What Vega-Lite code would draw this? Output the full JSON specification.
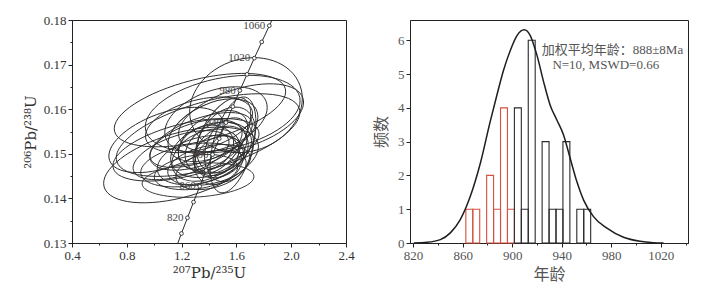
{
  "$schema": "https://vega.github.io/schema/vega-lite/v6.json",
  "background": "white",
  "padding": {"left": 22, "top": 13, "right": 0, "bottom": 0},
  "spacing": 18,
  "config": {
    "font": "Liberation Serif, Noto Sans CJK SC",
    "view": {"stroke": "#222222", "strokeWidth": 1},
    "axis": {
      "grid": false,
      "domainColor": "#222222",
      "tickColor": "#222222",
      "labelColor": "#333333",
      "labelFontSize": 13,
      "labelFont": "Liberation Serif",
      "labelOverlap": false,
      "titleColor": "#333333",
      "titleFontWeight": "normal",
      "labelPadding": 2
    }
  },
  "datasets": {
    "ell": [
      {"x": 1.670, "y": 0.1609, "len": 0.84, "r": "e80", "tilt": 20},
      {"x": 1.500, "y": 0.1590, "len": 1.15, "r": "e45", "tilt": 12},
      {"x": 1.334, "y": 0.1598, "len": 1.285, "r": "e35", "tilt": 14},
      {"x": 1.393, "y": 0.1542, "len": 1.387, "r": "e35", "tilt": 16},
      {"x": 1.196, "y": 0.1475, "len": 1.168, "r": "e40", "tilt": 16},
      {"x": 1.320, "y": 0.1441, "len": 0.818, "r": "e30", "tilt": 4},
      {"x": 1.232, "y": 0.1509, "len": 1.095, "r": "e35", "tilt": 14},
      {"x": 1.575, "y": 0.1520, "len": 0.72, "r": "e40", "tilt": 75},
      {"x": 1.451, "y": 0.1576, "len": 0.78, "r": "e55", "tilt": 20},
      {"x": 1.086, "y": 0.1531, "len": 0.876, "r": "e45", "tilt": 20},
      {"x": 1.634, "y": 0.1580, "len": 0.949, "r": "e45", "tilt": 18},
      {"x": 1.415, "y": 0.1509, "len": 0.613, "r": "e60", "tilt": 20},
      {"x": 1.378, "y": 0.1497, "len": 0.526, "r": "e65", "tilt": 25},
      {"x": 1.451, "y": 0.1513, "len": 0.481, "r": "e70", "tilt": 30},
      {"x": 1.342, "y": 0.1486, "len": 0.656, "r": "e50", "tilt": 15},
      {"x": 1.488, "y": 0.1504, "len": 0.438, "r": "e75", "tilt": 40},
      {"x": 1.305, "y": 0.1520, "len": 0.700, "r": "e45", "tilt": 18},
      {"x": 1.429, "y": 0.1531, "len": 0.569, "r": "e60", "tilt": 35},
      {"x": 1.473, "y": 0.1486, "len": 0.394, "r": "e80", "tilt": 45},
      {"x": 1.269, "y": 0.1475, "len": 0.744, "r": "e40", "tilt": 10},
      {"x": 1.400, "y": 0.1475, "len": 0.613, "r": "e45", "tilt": 12},
      {"x": 1.524, "y": 0.1531, "len": 0.526, "r": "e70", "tilt": 55},
      {"x": 1.342, "y": 0.1531, "len": 0.788, "r": "e40", "tilt": 20},
      {"x": 1.451, "y": 0.1497, "len": 0.350, "r": "e80", "tilt": 30},
      {"x": 1.378, "y": 0.1513, "len": 0.420, "r": "e75", "tilt": 25},
      {"x": 1.502, "y": 0.1542, "len": 0.613, "r": "e50", "tilt": 60},
      {"x": 1.305, "y": 0.1459, "len": 0.613, "r": "e40", "tilt": 8},
      {"x": 1.196, "y": 0.1497, "len": 0.730, "r": "e40", "tilt": 18},
      {"x": 1.429, "y": 0.1553, "len": 0.700, "r": "e55", "tilt": 25},
      {"x": 1.546, "y": 0.1509, "len": 0.481, "r": "e70", "tilt": 70},
      {"x": 1.415, "y": 0.1464, "len": 0.526, "r": "e50", "tilt": 15},
      {"x": 1.327, "y": 0.1565, "len": 0.803, "r": "e45", "tilt": 15}
    ],
    "conc": [
      {"t": 780, "x": 1.1558, "y": 0.12862},
      {"t": 800, "x": 1.1987, "y": 0.13213},
      {"t": 820, "x": 1.2425, "y": 0.13565},
      {"t": 840, "x": 1.2871, "y": 0.13918},
      {"t": 860, "x": 1.3326, "y": 0.14272},
      {"t": 880, "x": 1.3790, "y": 0.14627},
      {"t": 900, "x": 1.4263, "y": 0.14983},
      {"t": 920, "x": 1.4746, "y": 0.15340},
      {"t": 940, "x": 1.5238, "y": 0.15699},
      {"t": 960, "x": 1.5740, "y": 0.16058},
      {"t": 980, "x": 1.6252, "y": 0.16419},
      {"t": 1000, "x": 1.6774, "y": 0.16781},
      {"t": 1020, "x": 1.7307, "y": 0.17144},
      {"t": 1040, "x": 1.7850, "y": 0.17508},
      {"t": 1060, "x": 1.8404, "y": 0.17873},
      {"t": 1080, "x": 1.8969, "y": 0.18239}
    ],
    "hist": [
      {"a": 862.6, "b": 868.2, "n": 1, "g": "red"},
      {"a": 868.2, "b": 873.8, "n": 1, "g": "red"},
      {"a": 879.4, "b": 885.0, "n": 2, "g": "red"},
      {"a": 885.0, "b": 890.6, "n": 1, "g": "red"},
      {"a": 890.6, "b": 896.2, "n": 4, "g": "red"},
      {"a": 896.2, "b": 901.8, "n": 1, "g": "red"},
      {"a": 901.8, "b": 907.4, "n": 4, "g": "black"},
      {"a": 907.4, "b": 913.0, "n": 1, "g": "black"},
      {"a": 913.0, "b": 918.6, "n": 6, "g": "black"},
      {"a": 924.2, "b": 929.8, "n": 3, "g": "black"},
      {"a": 929.8, "b": 935.4, "n": 1, "g": "black"},
      {"a": 935.4, "b": 941.0, "n": 1, "g": "black"},
      {"a": 941.0, "b": 946.6, "n": 3, "g": "black"},
      {"a": 952.2, "b": 957.8, "n": 1, "g": "black"},
      {"a": 957.8, "b": 963.4, "n": 1, "g": "black"}
    ],
    "curve": [
      {"a": 820.6, "n": 0},
      {"a": 831.3, "n": 0.02},
      {"a": 842.0, "n": 0.1},
      {"a": 850.1, "n": 0.3},
      {"a": 858.1, "n": 0.69},
      {"a": 866.2, "n": 1.38},
      {"a": 874.3, "n": 2.36},
      {"a": 882.3, "n": 3.6},
      {"a": 887.7, "n": 4.38},
      {"a": 893.1, "n": 5.12},
      {"a": 898.5, "n": 5.7},
      {"a": 903.9, "n": 6.14},
      {"a": 909.8, "n": 6.31},
      {"a": 914.6, "n": 6.14},
      {"a": 920.0, "n": 5.56},
      {"a": 925.4, "n": 4.77},
      {"a": 930.7, "n": 4.08},
      {"a": 936.1, "n": 3.64},
      {"a": 941.5, "n": 3.2},
      {"a": 946.9, "n": 2.5},
      {"a": 952.3, "n": 1.81},
      {"a": 957.7, "n": 1.27},
      {"a": 965.7, "n": 0.78},
      {"a": 976.5, "n": 0.44},
      {"a": 989.9, "n": 0.17},
      {"a": 1003.3, "n": 0.05},
      {"a": 1014.1, "n": 0.01},
      {"a": 1022.2, "n": 0}
    ],
    "notes": [
      {"a": 981, "n": 5.70, "t": "加权平均年龄：888±8Ma"},
      {"a": 975.6, "n": 5.26, "t": "N=10, MSWD=0.66"}
    ]
  },
  "hconcat": [
    {
      "width": 274,
      "height": 223,
      "encoding": {
        "x": {
          "field": "x", "type": "quantitative",
          "scale": {"domain": [0.4, 2.4], "nice": false, "zero": false},
          "axis": {
            "title": "²⁰⁷Pb/²³⁵U",
            "titleFont": "DejaVu Serif",
            "titleFontSize": 15,
            "titlePadding": 3,
            "labelFlush": false,
            "labelOverlap": false,
            "values": [0.4, 0.6, 0.8, 1.0, 1.2, 1.4, 1.6, 1.8, 2.0, 2.2, 2.4],
            "labelExpr": "indexof(['0.4','0.8','1.2','1.6','2.0','2.4'], format(datum.value,'.1f')) >= 0 ? format(datum.value,'.1f') : ''",
            "tickSize": {"condition": {"test": "indexof(['0.4','0.8','1.2','1.6','2.0','2.4'], format(datum.value,'.1f')) >= 0", "value": 4}, "value": 2}
          }
        },
        "y": {
          "field": "y", "type": "quantitative",
          "scale": {"domain": [0.13, 0.18], "nice": false, "zero": false},
          "axis": {
            "title": "²⁰⁶Pb/²³⁸U",
            "titleFont": "DejaVu Serif",
            "titleFontSize": 15,
            "titlePadding": 5,
            "labelOverlap": false,
            "values": [0.13, 0.135, 0.14, 0.145, 0.15, 0.155, 0.16, 0.165, 0.17, 0.175, 0.18],
            "labelExpr": "substring(format(datum.value,'.3f'),4,5) == '0' ? format(datum.value,'.2f') : ''",
            "tickSize": {"condition": {"test": "substring(format(datum.value,'.3f'),4,5) == '0'", "value": 4}, "value": 2}
          }
        }
      },
      "layer": [
        {
          "data": {"name": "ell"},
          "mark": {"type": "point", "filled": false, "color": "#2b2b2b", "strokeWidth": 0.9, "opacity": 1, "clip": true},
          "encoding": {
            "size": {"field": "len", "type": "quantitative", "legend": null,
              "scale": {"type": "pow", "exponent": 2, "domain": [0, 1], "range": [0, 18769]}},
            "shape": {"field": "r", "type": "nominal", "legend": null,
              "scale": {
                "domain": ["e30", "e35", "e40", "e45", "e50", "e55", "e60", "e65", "e70", "e75", "e80"],
                "range": [
                  "M-1 0 A1 0.30 0 1 1 1 0 A1 0.30 0 1 1 -1 0 Z",
                  "M-1 0 A1 0.35 0 1 1 1 0 A1 0.35 0 1 1 -1 0 Z",
                  "M-1 0 A1 0.40 0 1 1 1 0 A1 0.40 0 1 1 -1 0 Z",
                  "M-1 0 A1 0.45 0 1 1 1 0 A1 0.45 0 1 1 -1 0 Z",
                  "M-1 0 A1 0.50 0 1 1 1 0 A1 0.50 0 1 1 -1 0 Z",
                  "M-1 0 A1 0.55 0 1 1 1 0 A1 0.55 0 1 1 -1 0 Z",
                  "M-1 0 A1 0.60 0 1 1 1 0 A1 0.60 0 1 1 -1 0 Z",
                  "M-1 0 A1 0.65 0 1 1 1 0 A1 0.65 0 1 1 -1 0 Z",
                  "M-1 0 A1 0.70 0 1 1 1 0 A1 0.70 0 1 1 -1 0 Z",
                  "M-1 0 A1 0.75 0 1 1 1 0 A1 0.75 0 1 1 -1 0 Z",
                  "M-1 0 A1 0.80 0 1 1 1 0 A1 0.80 0 1 1 -1 0 Z"
                ]
              }},
            "angle": {"field": "tilt", "type": "quantitative", "legend": null,
              "scale": {"domain": [0, 90], "range": [360, 270]}}
          }
        },
        {
          "data": {"name": "conc"},
          "mark": {"type": "line", "color": "#2b2b2b", "strokeWidth": 1, "clip": true},
          "encoding": {
            "order": {"field": "t", "type": "quantitative"}
          }
        },
        {
          "data": {"name": "conc"},
          "mark": {"type": "point", "filled": true, "fill": "white", "stroke": "#2b2b2b", "strokeWidth": 0.9, "size": 14, "opacity": 1, "clip": true},
          "encoding": {}
        },
        {
          "data": {"name": "conc"},
          "transform": [{"filter": "datum.t % 40 == 20"}],
          "mark": {"type": "text", "align": "right", "baseline": "middle", "dx": -4, "fontSize": 11, "color": "#444444", "font": "Liberation Serif", "clip": true},
          "encoding": {
            "text": {"field": "t", "type": "quantitative"}
          }
        }
      ]
    },
    {
      "width": 278,
      "height": 223,
      "encoding": {
        "x": {
          "field": "a", "type": "quantitative",
          "scale": {"domain": [817.5, 1042], "nice": false, "zero": false},
          "axis": {
            "title": "年龄",
            "titleFont": "Noto Sans CJK SC",
            "titleFontSize": 16,
            "titleColor": "#555555",
            "titlePadding": 4,
            "labelFlush": false,
            "labelOverlap": false,
            "labelColor": "#555555",
            "values": [820, 840, 860, 880, 900, 920, 940, 960, 980, 1000, 1020, 1040],
            "labelExpr": "datum.value % 40 == 20 ? format(datum.value,'d') : ''",
            "tickSize": {"condition": {"test": "datum.value % 40 == 20", "value": 4}, "value": 2}
          }
        },
        "y": {
          "field": "n", "type": "quantitative",
          "scale": {"domain": [0, 6.6], "nice": false, "zero": false},
          "axis": {
            "title": "频数",
            "titleFont": "Noto Sans CJK SC",
            "titleFontSize": 16,
            "titleColor": "#555555",
            "titlePadding": 8,
            "labelOverlap": false,
            "labelColor": "#555555",
            "values": [0, 1, 2, 3, 4, 5, 6],
            "tickCount": 7,
            "labelExpr": "format(datum.value,'d')",
            "tickSize": 4
          }
        }
      },
      "layer": [
        {
          "data": {"name": "hist"},
          "mark": {"type": "rect", "fillOpacity": 0, "strokeWidth": 1.1},
          "encoding": {
            "x2": {"field": "b"},
            "y2": {"datum": 0},
            "stroke": {"field": "g", "type": "nominal", "legend": null,
              "scale": {"domain": ["red", "black"], "range": ["#d4503f", "#2b2b2b"]}}
          }
        },
        {
          "data": {"name": "curve"},
          "mark": {"type": "line", "color": "#1e1e1e", "strokeWidth": 1.5, "interpolate": "monotone"},
          "encoding": {}
        },
        {
          "data": {"name": "notes"},
          "mark": {"type": "text", "align": "center", "baseline": "middle", "fontSize": 13, "color": "#555555"},
          "encoding": {
            "text": {"field": "t", "type": "nominal"}
          }
        }
      ]
    }
  ]
}
